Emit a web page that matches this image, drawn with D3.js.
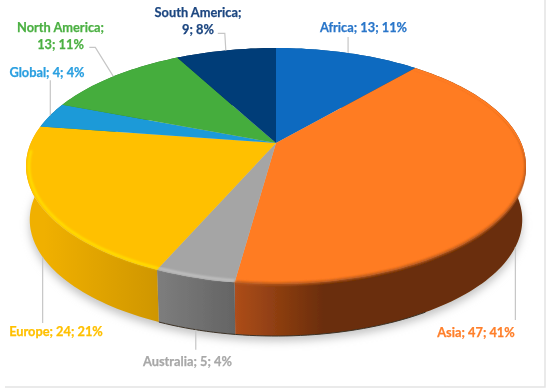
<!DOCTYPE html>
<html>
<head>
<meta charset="UTF-8">
<script src="https://d3js.org/d3.v7.min.js"></script>
<style>
  body { margin: 0; background: #fff; }
  svg { display: block; }
  .lbl { font-family: Lato, sans-serif; font-weight: 700; font-size: 12.8px; stroke-width: 0.25px; }
</style>
</head>
<body>
<div id="chart"></div>
<script>
var regions = ["Africa", "Asia", "Australia", "Europe", "Global", "North America", "South America"];
var counts = [13, 47, 5, 24, 4, 13, 9];
var shares = [11, 41, 4, 21, 4, 11, 8];
var topColors = ["#0a6bc0", "#ff7b22", "#a5a5a5", "#ffc000", "#1f9ad8", "#44ad3e", "#003c78"];
var labelColors = ["#2a76c9", "#ff7f2a", "#a8a8a8", "#ffc000", "#2a9fe0", "#4cb043", "#1c4680"];
var sideLight = ["#0a5aa0", "#ad4d1a", "#7d7d7d", "#f0b000", "#1a80b0", "#37902f", "#00305f"];
var sideDark = ["#063c70", "#6a2d07", "#646464", "#cf9600", "#125a80", "#25661f", "#002040"];
var rimColors = ["#0a6bc0", "#b4561a", "#c8c8c8", "#ffe600", "#1f9ad8", "#44ad3e", "#003c78"];
var rimInset = [1, 1, 0.985, 0.988, 1, 1, 1];

var width = 550, height = 392;
var cx = 276, apexY = 143, A = 245.2, B = 113.5, k = 0.195;
var ellipseCy = 166, depth = 53.8, bottomScale = 0.985;

// perspective: the apex of the pie sits above the centre of the ellipse
function topPoint(a) {
  var u = Math.sin(a), v = -Math.cos(a), d = 1 - k * v;
  return [cx + A * u / d, apexY + B * v / d];
}
function bottomPoint(a) {
  var p = topPoint(a);
  return [cx + (p[0] - cx) * bottomScale, ellipseCy + depth + (p[1] - ellipseCy) * bottomScale];
}
function insetPoint(a, s) {
  var p = topPoint(a);
  return [cx + (p[0] - cx) * s, ellipseCy + (p[1] - ellipseCy) * s];
}
function arcAngles(a0, a1) {
  var n = Math.max(2, Math.ceil((a1 - a0) * 40));
  return d3.range(n + 1).map(function(i) { return a0 + (a1 - a0) * i / n; });
}

var pie = d3.pie().sort(null).value(function(d) { return d; });
var slices = pie(counts);
var line = d3.line();

var svg = d3.select("#chart").append("svg").attr("width", width).attr("height", height);
var defs = svg.append("defs");

defs.append("filter").attr("id", "shadowBlur").attr("x", "-10%").attr("y", "-10%").attr("width", "120%").attr("height", "130%")
  .append("feGaussianBlur").attr("stdDeviation", 4.5);
defs.append("filter").attr("id", "rimBlur").attr("x", "-5%").attr("y", "-5%").attr("width", "110%").attr("height", "110%")
  .append("feGaussianBlur").attr("stdDeviation", 0.8);
defs.append("filter").attr("id", "soft").attr("x", "-5%").attr("y", "-5%").attr("width", "110%").attr("height", "110%")
  .append("feGaussianBlur").attr("stdDeviation", 0.35);

slices.forEach(function(s, i) {
  var x0 = bottomPoint(s.startAngle)[0], x1 = bottomPoint(s.endAngle)[0];
  var g = defs.append("linearGradient").attr("id", "side" + i)
    .attr("gradientUnits", "userSpaceOnUse")
    .attr("x1", Math.min(x0, x1)).attr("x2", Math.max(x0, x1)).attr("y1", 0).attr("y2", 0);
  // Asia reaches its darkest tone early, the others run across the whole wedge
  g.append("stop").attr("offset", 0).attr("stop-color", sideLight[i]);
  g.append("stop").attr("offset", i == 1 ? 0.5 : 1).attr("stop-color", sideDark[i]);
});

// frame of the screenshot
svg.append("path").attr("d", line([[545, 0], [545, 387], [5, 387]]))
  .attr("fill", "none").attr("stroke", "#e4e4e4").attr("stroke-width", 1.5);

// drop shadow under the disc
svg.append("path")
  .attr("d", line(arcAngles(0, 2 * Math.PI).map(bottomPoint)) + "Z")
  .attr("transform", "translate(0,5)")
  .attr("fill", "#c4c4c4")
  .attr("filter", "url(#shadowBlur)");

var chart = svg.append("g").attr("filter", "url(#soft)");

// side wall
chart.selectAll(".side").data(slices).enter().append("path")
  .attr("class", "side")
  .attr("d", function(s) {
    var angles = arcAngles(s.startAngle, s.endAngle);
    return line(angles.map(topPoint).concat(angles.slice().reverse().map(bottomPoint))) + "Z";
  })
  .attr("fill", function(s, i) { return "url(#side" + i + ")"; });

// thin dark line under the grey and orange walls
chart.selectAll(".foot").data([slices[1], slices[2]]).enter().append("path")
  .attr("class", "foot")
  .attr("d", function(s) {
    return line(arcAngles(Math.max(s.startAngle, 2.6), s.endAngle).map(bottomPoint));
  })
  .attr("fill", "none").attr("stroke", "#3c3226").attr("stroke-width", 1);

// top face
chart.selectAll(".top").data(slices).enter().append("path")
  .attr("class", "top")
  .attr("d", function(s) {
    return line([[cx, apexY]].concat(arcAngles(s.startAngle, s.endAngle).map(topPoint))) + "Z";
  })
  .attr("fill", function(s, i) { return topColors[i]; });

// bevel along the front rim, Asia only gets a soft edge
var rimEnd = 4.65;
var frontClip = defs.append("clipPath").attr("id", "frontRim");
frontClip.append("path").attr("d", line(arcAngles(0, 2 * Math.PI).map(topPoint)) + "Z")
  .attr("transform", "translate(0,3)");
var rim = chart.append("g").attr("clip-path", "url(#frontRim)");
rim.selectAll(".rim").data(slices.slice(1, 4)).enter().append("path")
  .attr("class", "rim")
  .attr("d", function(s, i) {
    return line(arcAngles(s.startAngle, Math.min(s.endAngle, rimEnd)).map(function(a) { return insetPoint(a, rimInset[i + 1]); }));
  })
  .attr("fill", "none")
  .attr("stroke", function(s, i) { return rimColors[i + 1]; })
  .attr("stroke-width", function(s, i) { return i == 0 ? 2.6 : 2; })
  .attr("filter", "url(#rimBlur)");

// leader lines start from the middle of each wedge's edge
var leaderSteps = [
  [[0, -16]],
  [[0, 73]],
  [[0, 20]],
  [[0, 66]],
  [[0, -35]],
  [[-18, -29], [-24, -29]],
  [[-1, -17], [-8, -17]]
];
var fromBottom = [false, true, true, true, false, false, false];
svg.selectAll(".leader").data(slices).enter().append("path")
  .attr("class", "leader")
  .attr("d", function(s, i) {
    var mid = (s.startAngle + s.endAngle) / 2;
    var p = fromBottom[i] ? bottomPoint(mid) : topPoint(mid);
    return line([p].concat(leaderSteps[i].map(function(o) { return [p[0] + o[0], p[1] + o[1]]; })));
  })
  .attr("fill", "none").attr("stroke", "#c6c6c6").attr("stroke-width", 1.2);

// labels, wrapped ones have two lines
var labelX = [363.5, 476, 187.5, 56, 47, 60.5, 198];
var labelY = [32, 337, 366, 336, 77, 32, 17];
var wrapped = [false, false, false, false, false, true, true];
var labels = svg.append("g").attr("filter", "url(#soft)");
regions.forEach(function(name, i) {
  var t = labels.append("text").attr("class", "lbl")
    .attr("x", labelX[i]).attr("y", labelY[i])
    .attr("text-anchor", "middle").attr("fill", labelColors[i]).attr("stroke", labelColors[i]);
  var rest = counts[i] + "; " + shares[i] + "%";
  if (wrapped[i]) {
    t.append("tspan").attr("x", labelX[i]).text(name + ";");
    t.append("tspan").attr("x", labelX[i]).attr("dy", 17).text(rest);
  } else {
    t.text(name + "; " + rest);
  }
});
</script>
</body>
</html>
